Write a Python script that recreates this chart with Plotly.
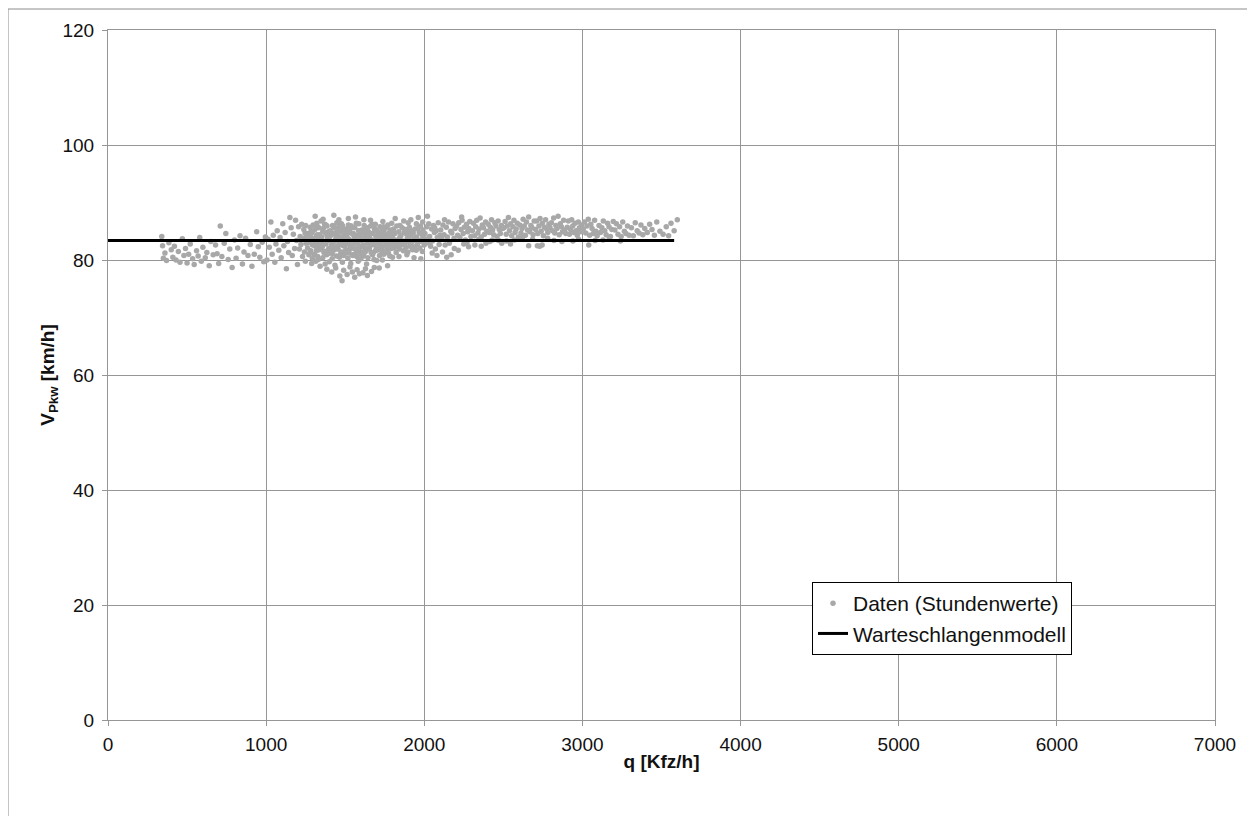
import plotly.graph_objects as go

# ---- data: hourly values (q [Kfz/h], V_Pkw [km/h]) ----
q_a = [340,345,350,360,370,385,400,410,420,430,445,455,470,480,490,500,510,520,535,545,560,570,580,590,600,615,625,640,650,665,680,690,700,710,720,735,745,760,770,785,800,810,820,835,850,860,870,885,900,910,925,940,950,960,975,985,995]
v_a = [84.1,82.5,80.3,81.2,79.9,83.0,81.8,80.5,82.4,80.0,81.5,79.6,83.7,80.8,82.0,79.5,81.0,82.8,80.2,79.2,81.6,80.7,83.9,79.8,82.2,80.4,81.3,79.0,83.2,80.9,82.6,81.1,79.4,85.9,80.6,82.9,84.6,80.1,81.9,78.7,83.5,80.3,82.1,84.2,79.3,81.4,83.8,80.8,82.7,78.9,81.0,84.9,82.3,80.5,83.1,79.7,84.0]

q_b = [1005,1012,1020,1030,1038,1045,1055,1062,1070,1080,1088,1095,1105,1112,1120,1128,1135,1142,1150,1158,1165,1172,1180,1186,1192,1198,1205,1210,1215,1220,1225,1230,1235,1238,1242,1246,1248,1250,1252,1255]
v_b = [80.0,83.6,82.2,86.6,81.0,84.3,79.6,82.8,85.1,81.7,83.9,80.4,86.3,82.5,84.8,78.5,83.2,81.3,87.4,85.6,80.8,84.5,82.0,86.9,83.4,79.2,85.8,81.9,84.1,82.7,86.2,80.6,83.8,85.3,81.4,84.7,79.8,86.0,82.9,83.5]

q_c = [1262,1266,1270,1274,1278,1282,1285,1288,1291,1294,1297,1268,1276,1284,1292,1299,1258,
       1302,1305,1308,1311,1314,1317,1320,1323,1326,1329,1332,1335,1338,1341,1344,1347,1349,1310,1330,
       1352,1355,1358,1361,1364,1367,1370,1373,1376,1379,1382,1385,1388,1391,1394,1397,1399,1360,1384,
       1402,1405,1408,1411,1414,1417,1420,1423,1426,1429,1432,1435,1438,1441,1444,1447,1449,1415,1440,1428,
       1452,1455,1458,1461,1464,1467,1470,1473,1476,1479,1482,1485,1488,1491,1494,1497,1499,1466,1480,1490,1460,
       1502,1505,1508,1511,1514,1517,1520,1523,1526,1529,1532,1535,1538,1541,1544,1547,1549,1512,1530,1545,1520,
       1552,1555,1558,1561,1564,1567,1570,1573,1576,1579,1582,1585,1588,1591,1594,1597,1599,1560,1575,1590,1565,
       1602,1605,1608,1611,1614,1617,1620,1623,1626,1629,1632,1635,1638,1641,1644,1647,1649,1612,1628,1640,1618,
       1652,1655,1658,1661,1664,1667,1670,1673,1676,1679,1682,1685,1688,1691,1694,1697,1699,1666,1684,1660,
       1702,1705,1708,1711,1714,1717,1720,1723,1726,1729,1732,1735,1738,1741,1744,1747,1749,1715,1738,
       1752,1755,1758,1761,1764,1767,1770,1773,1776,1779,1782,1785,1788,1791,1794,1797,1799,1768,
       1802,1806,1810,1814,1818,1822,1826,1830,1834,1838,1842,1846,1849,1816,1840,
       1852,1856,1860,1864,1868,1872,1876,1880,1884,1888,1892,1896,1899,1870,1890,
       1902,1906,1910,1914,1918,1922,1926,1930,1934,1938,1942,1946,1949,1915,1935,
       1952,1956,1960,1964,1968,1972,1976,1980,1984,1988,1992,1996,1999,1962,1978,1990]
v_c = [82.1,84.6,80.9,83.3,85.7,81.6,83.9,79.4,84.8,82.6,86.1,83.0,81.2,85.0,80.3,83.7,84.2,
       83.5,81.0,85.3,82.4,79.8,84.1,86.4,82.9,80.6,83.8,85.6,81.8,84.4,78.9,83.1,86.8,82.2,87.6,80.1,
       84.0,82.3,80.4,85.5,83.2,81.5,86.2,79.3,84.7,82.8,80.9,85.9,83.6,81.1,84.9,82.0,79.7,87.1,78.4,
       83.4,85.1,81.3,84.3,82.6,80.2,86.0,83.0,81.7,85.7,82.1,79.1,84.6,83.8,80.7,86.5,82.4,77.9,78.6,87.8,
       84.2,81.9,83.5,85.8,80.5,82.7,84.9,81.4,86.3,83.1,79.6,85.2,82.5,80.8,84.4,83.7,81.2,77.2,76.4,78.2,87.0,
       83.0,85.4,81.6,84.1,82.9,80.3,86.1,83.6,81.8,84.8,82.2,79.4,85.9,83.3,80.9,84.5,82.6,77.5,78.8,77.9,87.2,
       84.6,82.0,83.9,85.6,81.1,83.2,86.4,80.6,84.3,82.8,79.8,85.1,83.5,81.5,84.0,82.3,80.2,77.0,78.3,77.6,87.5,
       83.3,85.2,81.4,84.7,82.5,80.7,86.0,83.8,82.0,84.4,81.7,79.3,85.5,83.1,80.4,84.9,82.8,77.8,78.5,77.3,87.0,
       84.3,82.4,83.7,85.9,81.3,83.0,86.2,80.9,84.6,82.7,80.1,85.4,83.4,81.6,84.1,82.1,79.9,78.0,78.7,86.9,
       83.6,85.0,81.8,84.5,82.9,80.8,85.8,83.2,82.3,84.8,81.5,80.0,85.3,83.9,81.0,84.2,82.6,78.6,86.7,
       84.4,82.8,83.9,85.7,81.7,83.4,86.1,81.2,84.7,83.0,80.7,85.2,83.6,82.0,84.3,82.5,80.5,79.0,
       83.8,85.4,82.1,84.6,83.1,81.3,85.9,83.5,82.4,84.9,81.9,84.0,82.7,87.2,80.6,
       84.2,82.6,85.6,83.3,81.6,84.8,83.0,85.3,82.2,84.5,83.7,81.4,85.0,86.8,80.9,
       83.5,85.7,82.4,84.3,83.0,85.1,81.8,84.7,83.6,82.3,85.4,83.9,81.7,87.0,80.4,
       84.0,82.7,85.5,83.4,84.8,82.1,85.9,83.2,84.5,81.5,85.2,83.8,82.6,87.4,80.2,86.6]

# extra hours in the dense core (1300-2000 Kfz/h)
q_core = [1310,1322,1334,1346,1358,1372,1386,1398,1412,1424,1436,1448,1462,1474,1486,1498,1510,1522,1534,1546,
          1558,1570,1582,1594,1606,1618,1630,1642,1654,1666,1678,1690,1704,1718,1732,1746,1760,1774,1788,1802,
          1318,1342,1366,1392,1418,1444,1470,1496,1522,1548,1574,1600,1626,1652,1678,1704,1730,1756,1782,1808,
          1834,1860,1886,1912,1938,1964,1990,1326,1378,1430,1482,1534,1586,1638,1690,1742,1794,1846,1898,1950]
v_core = [83.2,84.4,82.5,83.9,85.0,82.9,84.2,83.5,82.2,84.7,83.3,85.3,82.8,84.0,83.6,82.4,84.9,83.1,85.5,82.7,
          84.3,83.4,82.1,84.8,83.7,82.6,85.1,83.9,82.3,84.6,83.0,85.4,82.9,84.1,83.5,85.2,82.5,84.4,83.2,84.9,
          81.6,82.0,81.3,81.8,81.1,81.9,80.9,81.5,81.2,80.8,81.7,81.0,81.4,81.9,81.3,81.8,82.1,81.6,82.2,82.4,
          82.6,82.9,83.1,83.0,83.4,83.3,83.8,85.8,86.1,85.7,86.0,85.9,86.3,85.6,86.2,85.8,86.4,86.0,86.5,86.3]

q_d = [2004,2010,2016,2022,2028,2034,2040,2046,2052,2058,2064,2070,2076,2082,2088,2094,2099,2020,2050,2080,2036,2066,
       2104,2111,2118,2125,2132,2139,2146,2153,2160,2167,2174,2181,2188,2195,2115,2142,2170,2190,2128,2158,
       2204,2211,2218,2225,2232,2239,2246,2253,2260,2267,2274,2281,2288,2295,2215,2250,2280,2236,2270,
       2304,2311,2318,2325,2332,2339,2346,2353,2360,2367,2374,2381,2388,2395,2320,2360,2390,2345,
       2404,2411,2418,2425,2432,2439,2446,2453,2460,2467,2474,2481,2488,2495,2430,2470,2415,2490,
       2504,2511,2518,2525,2532,2539,2546,2553,2560,2567,2574,2581,2588,2595,2520,2570,2545,
       2604,2611,2618,2625,2632,2639,2646,2653,2660,2667,2674,2681,2688,2695,2620,2660,2685,
       2704,2711,2718,2725,2732,2739,2746,2753,2760,2767,2774,2781,2788,2795,2715,2730,2745,2780,
       2804,2811,2818,2825,2832,2839,2846,2853,2860,2867,2874,2881,2888,2895,2820,2870,
       2904,2911,2918,2925,2932,2939,2946,2953,2960,2967,2974,2981,2988,2995,2940,2975]
v_d = [84.6,82.9,85.8,83.7,86.3,84.1,82.4,85.4,83.3,86.0,84.8,81.9,85.1,83.9,86.5,82.7,84.3,87.6,81.2,80.8,83.0,85.6,
       85.2,83.6,86.1,84.4,82.6,85.7,84.0,86.6,83.2,85.0,84.7,86.3,83.8,85.5,81.4,80.5,80.9,82.0,87.0,82.9,
       85.9,84.3,86.5,83.9,85.3,86.9,84.6,85.7,83.5,86.2,84.9,85.5,86.7,84.1,81.7,82.8,82.3,87.5,83.0,
       85.1,86.4,84.2,85.8,86.9,84.7,85.4,87.3,84.0,86.1,85.6,84.5,86.6,85.0,82.6,82.4,82.9,83.6,
       86.2,84.8,85.7,87.0,85.2,84.4,86.5,85.9,84.1,86.8,85.3,84.6,86.0,85.5,83.5,83.4,83.2,82.9,
       85.6,86.7,84.5,85.9,87.4,85.1,86.3,84.2,85.8,86.9,84.8,85.4,86.4,84.0,83.3,83.5,82.8,
       86.1,84.7,85.5,87.1,85.9,84.3,86.6,85.2,87.5,84.9,86.0,85.6,84.4,86.8,83.9,82.5,83.6,
       85.3,86.8,84.6,85.9,87.2,85.0,86.4,84.2,85.7,87.0,85.4,84.8,86.2,85.6,82.5,82.4,82.6,83.8,
       86.5,85.1,87.3,84.7,86.0,85.5,87.6,84.4,86.3,85.8,84.9,86.9,85.2,84.6,83.4,83.2,
       85.7,86.8,84.5,85.3,87.0,85.9,84.8,86.4,85.1,84.3,86.6,85.6,84.9,86.1,83.3,83.6]

q_e = [3005,3013,3021,3029,3037,3045,3053,3061,3069,3077,3085,3093,3040,3080,
       3105,3114,3123,3132,3141,3150,3159,3168,3177,3186,3195,3130,3170,
       3205,3215,3225,3235,3245,3255,3265,3275,3285,3295,3240,
       3310,3322,3334,3346,3358,3370,3382,3394,
       3410,3425,3440,3455,3470,3490,3510,3530,3545,3560,3580,3600]
v_e = [85.4,86.6,84.7,85.9,87.1,84.3,86.2,85.5,84.6,86.9,85.0,84.2,82.6,83.4,
       86.0,84.8,85.6,86.8,85.1,84.4,86.4,85.8,84.1,85.3,86.7,83.5,83.9,
       85.2,86.3,84.5,85.8,84.1,86.6,85.0,84.6,85.9,84.3,83.3,
       85.6,84.2,86.5,85.1,84.7,86.1,84.4,85.5,
       84.8,86.2,85.3,84.3,86.6,85.0,84.5,85.8,84.2,86.4,85.1,87.0]

q_data = q_a + q_b + q_c + q_core + q_d + q_e
v_data = v_a + v_b + v_c + v_core + v_d + v_e

# queue model line
q_model = [0, 3580]
v_model = [83.4, 83.4]

x_ticks = [0, 1000, 2000, 3000, 4000, 5000, 6000, 7000]
y_ticks = [0, 20, 40, 60, 80, 100, 120]

FONT = "Liberation Sans, Arial, sans-serif"
GRID = "#969696"
TXT = "#111111"

fig = go.Figure()
fig.add_trace(go.Scatter(
    x=q_data, y=v_data, mode="markers", name="Daten (Stundenwerte)",
    marker=dict(color="#a8a8a8", size=5.5, line=dict(width=0)),
))
fig.add_trace(go.Scatter(
    x=q_model, y=v_model, mode="lines", name="Warteschlangenmodell",
    line=dict(color="black", width=3),
))

# page is offset by the browser's 8px body margin
OFF = 8
W, H = 1255, 816
L, R, T, B = 108 - OFF, 40 + OFF, 30 - OFF, 96 + OFF
pw, ph = W - L - R, H - T - B

def px(x):
    return (x - OFF - L) / pw

def py(y):
    return (H - B - (y - OFF)) / ph

fig.update_layout(
    width=W, height=H,
    margin=dict(l=L, r=R, t=T, b=B),
    paper_bgcolor="white", plot_bgcolor="white",
    font=dict(family=FONT, size=19, color=TXT),
    showlegend=True,
    legend=dict(
        x=px(812), y=py(582), xanchor="left", yanchor="top",
        bgcolor="white", bordercolor="black", borderwidth=1,
        font=dict(size=21, family=FONT, color=TXT),
        itemwidth=30, tracegroupgap=0,
    ),
    xaxis=dict(
        range=[0, 7000], tickvals=x_ticks, ticktext=[str(t) for t in x_ticks],
        showgrid=True, gridcolor=GRID, gridwidth=1,
        showline=True, linecolor=GRID, linewidth=1, mirror=True,
        ticks="outside", ticklen=5, tickcolor=GRID,
        zeroline=False, ticklabelstandoff=2,
        tickfont=dict(size=19, family=FONT, color=TXT),
        title=dict(text="<b>q [Kfz/h]</b>", font=dict(size=19, family=FONT, color=TXT), standoff=0),
    ),
    yaxis=dict(
        range=[0, 120], tickvals=y_ticks, ticktext=[str(t) for t in y_ticks],
        showgrid=True, gridcolor=GRID, gridwidth=1,
        showline=True, linecolor=GRID, linewidth=1, mirror=True,
        ticks="outside", ticklen=5, tickcolor=GRID,
        zeroline=False, ticklabelstandoff=4,
        tickfont=dict(size=19, family=FONT, color=TXT),
        title=dict(text="<b>V<sub>Pkw</sub> [km/h]</b>", font=dict(size=19, family=FONT, color=TXT), standoff=2),
    ),
    shapes=[
        dict(type="line", xref="paper", yref="paper",
             x0=px(8), x1=px(1260), y0=py(9), y1=py(9),
             line=dict(color="#8c8c8c", width=1), layer="below"),
        dict(type="line", xref="paper", yref="paper",
             x0=px(8), x1=px(8), y0=py(9), y1=py(820),
             line=dict(color="#8c8c8c", width=1), layer="below"),
    ],
)

fig.write_html("out.html")
